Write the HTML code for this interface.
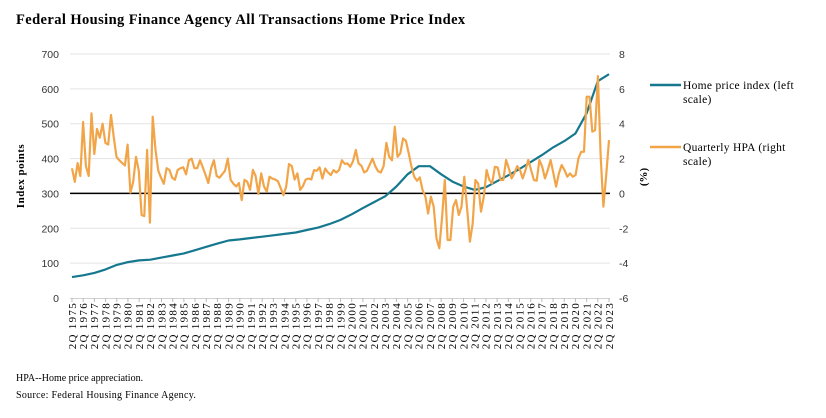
<!DOCTYPE html>
<html><head><meta charset="utf-8"><style>
body{margin:0;background:#fff;}
svg{display:block;font-family:"Liberation Serif",serif;}
</style></head><body>
<svg id="chart" width="826" height="418" viewBox="0 0 826 418" xmlns="http://www.w3.org/2000/svg">
<text x="16" y="24" font-size="14.5" font-weight="bold" letter-spacing="0.4">Federal Housing Finance Agency All Transactions Home Price Index</text>
<g id="grid"></g>
<g id="yl"></g>
<g id="yr"></g>
<g id="xa"></g>
<text transform="translate(24,176) rotate(-90)" text-anchor="middle" font-size="11" font-weight="bold" letter-spacing="0.5">Index points</text>
<text transform="translate(647,177) rotate(-90)" text-anchor="middle" font-size="11" font-weight="bold">(%)</text>
<g id="series"></g>
<g>
<line x1="650" y1="85" x2="681" y2="85" stroke="#16788f" stroke-width="2.5"/>
<text x="683" y="89" font-size="11.5" letter-spacing="0.3"><tspan x="683">Home price index (left</tspan><tspan x="683" dy="14">scale)</tspan></text>
<line x1="650" y1="147" x2="681" y2="147" stroke="#f2a548" stroke-width="2.5"/>
<text x="683" y="151" font-size="11.5" letter-spacing="0.3"><tspan x="683">Quarterly HPA (right</tspan><tspan x="683" dy="14">scale)</tspan></text>
</g>
<text x="16" y="381" font-size="10">HPA--Home price appreciation.</text>
<text x="16" y="398" font-size="10" letter-spacing="0.3">Source: Federal Housing Finance Agency.</text>
</svg>
<script>
const years = [];
for (let y = 1975; y <= 2023; y++) years.push(y);
const leftTicks = [0,100,200,300,400,500,600,700];
const rightTicks = [-6,-4,-2,0,2,4,6,8];
const hpiAnnual = [60,65,72,82,95,103,108,110,116,122,128,137,147,156,165,168,172,176,180,184,188,195,202,212,224,240,258,275,292,320,355,378,378,355,334,320,310,318,335,352,370,390,410,432,450,472,530,622,642];
const hpaQuarterly = [1.44,0.67,1.74,1.0,4.1,1.57,1.0,4.6,2.26,3.7,3.2,4.0,2.9,2.8,4.5,3.25,2.1,1.9,1.75,1.6,2.8,0.04,0.67,2.1,1.3,-1.24,-1.3,2.5,-1.68,4.4,2.5,1.3,0.9,0.55,1.45,1.35,0.9,0.78,1.35,1.45,1.5,1.1,1.9,2.0,1.45,1.45,1.9,1.5,1.05,0.6,1.45,1.9,1.0,0.9,1.1,1.3,2.0,0.78,0.55,0.4,0.6,-0.38,0.78,0.67,0.2,1.35,1.0,
-0.03,1.15,0.4,0.1,0.96,0.85,0.8,0.7,0.3,-0.1,0.4,1.69,1.57,0.8,1.15,0.2,0.42,0.8,0.85,0.8,1.34,1.3,1.5,0.85,1.43,1.2,1.05,1.34,1.2,1.34,1.9,1.7,1.72,1.53,1.84,2.49,1.72,1.59,1.2,1.3,1.65,2.0,1.56,1.27,1.2,1.56,2.9,2.1,1.9,3.83,2.1,2.3,3.16,3.02,2.3,1.53,0.96,0.73,0.92,0.19,-0.19,
-1.15,-0.19,-0.76,-2.58,-3.15,-1.35,0.77,-2.67,-2.67,-0.76,-0.38,-1.24,-0.76,0.96,-0.86,-2.77,-1.72,0.77,0.57,-1.05,-0.19,1.34,0.77,0.57,1.53,1.49,0.77,0.77,1.92,1.44,0.86,1.15,1.57,1.34,0.86,1.34,1.92,1.34,0.77,0.73,1.92,1.53,0.86,1.34,1.92,1.15,0.39,1.15,1.63,1.34,0.96,1.15,0.96,1.05,2.01,2.39,2.39,5.55,5.55,3.54,3.63,6.73,2.1,-0.76,1.05,3.06];

const NS = "http://www.w3.org/2000/svg";
const X0 = 72, X1 = 609, YT = 54, YB = 298;
const nQ = 192;
function xq(i){ return X0 + (X1 - X0) * i / nQ; }
function xYear(y){ return xq((y - 1975) * 4); }
function yL(v){ return YB - (v - 0) / 700 * (YB - YT); }
function yR(v){ return YB - (v + 6) / 14 * (YB - YT); }
function mk(tag, attrs, parent){ const e = document.createElementNS(NS, tag); for (const k in attrs) e.setAttribute(k, attrs[k]); parent.appendChild(e); return e; }

const grid = document.getElementById('grid');
const yl = document.getElementById('yl');
const yr = document.getElementById('yr');
const xa = document.getElementById('xa');
const series = document.getElementById('series');

leftTicks.forEach(v => {
  if (v > 0) {
    const g = mk('line', {x1: 70, x2: 610, y1: yL(v), y2: yL(v), stroke: '#e3e3e3', 'stroke-width': 1}, grid);
    
    
  }
  const t = mk('text', {x: 59, y: yL(v) + 4, 'text-anchor': 'end', 'font-size': 10.5, fill: '#333', 'font-family': '"Liberation Sans",sans-serif'}, yl);
  t.textContent = v;
  
  
});
rightTicks.forEach(v => {
  const t = mk('text', {x: 619, y: yR(v) + 4, 'font-size': 10.5, fill: '#333', 'font-family': '"Liberation Sans",sans-serif'}, yr);
  t.textContent = v;
  
  
});
const ax = mk('line', {x1: 70, x2: 610, y1: YB + 0.5, y2: YB + 0.5, stroke: '#d0d0d0', 'stroke-width': 1}, xa);


years.forEach(y => {
  const x = xYear(y);
  const tk = mk('line', {x1: x, x2: x, y1: YB, y2: YB + 4, stroke: '#bbb', 'stroke-width': 1}, xa);
  
  
  const t = mk('text', {transform: `translate(${x + 3.8},302) rotate(-90)`, 'text-anchor': 'end', 'font-size': 11, 'letter-spacing': 1.3}, xa);
  t.textContent = '2Q ' + y;
  
  
});
const zl = mk('line', {x1: 70, x2: 610, y1: yR(0), y2: yR(0), stroke: '#000', 'stroke-width': 1.5}, series);



const hpiPts = hpiAnnual.map((v, i) => xYear(years[i]).toFixed(1) + ',' + yL(v).toFixed(1)).join(' ');
const hpi = mk('polyline', {points: hpiPts, fill: 'none', stroke: '#16788f', 'stroke-width': 2.2, 'stroke-linejoin': 'round'}, series);



const n = hpaQuarterly.length;
const hpaPts = hpaQuarterly.map((v, i) => (X0 + (X1 - X0) * i / (n - 1)).toFixed(1) + ',' + yR(v).toFixed(1)).join(' ');
const hpa = mk('polyline', {points: hpaPts, fill: 'none', stroke: '#f2a548', 'stroke-width': 2.2, 'stroke-linejoin': 'round'}, series);


</script>
</body></html>
